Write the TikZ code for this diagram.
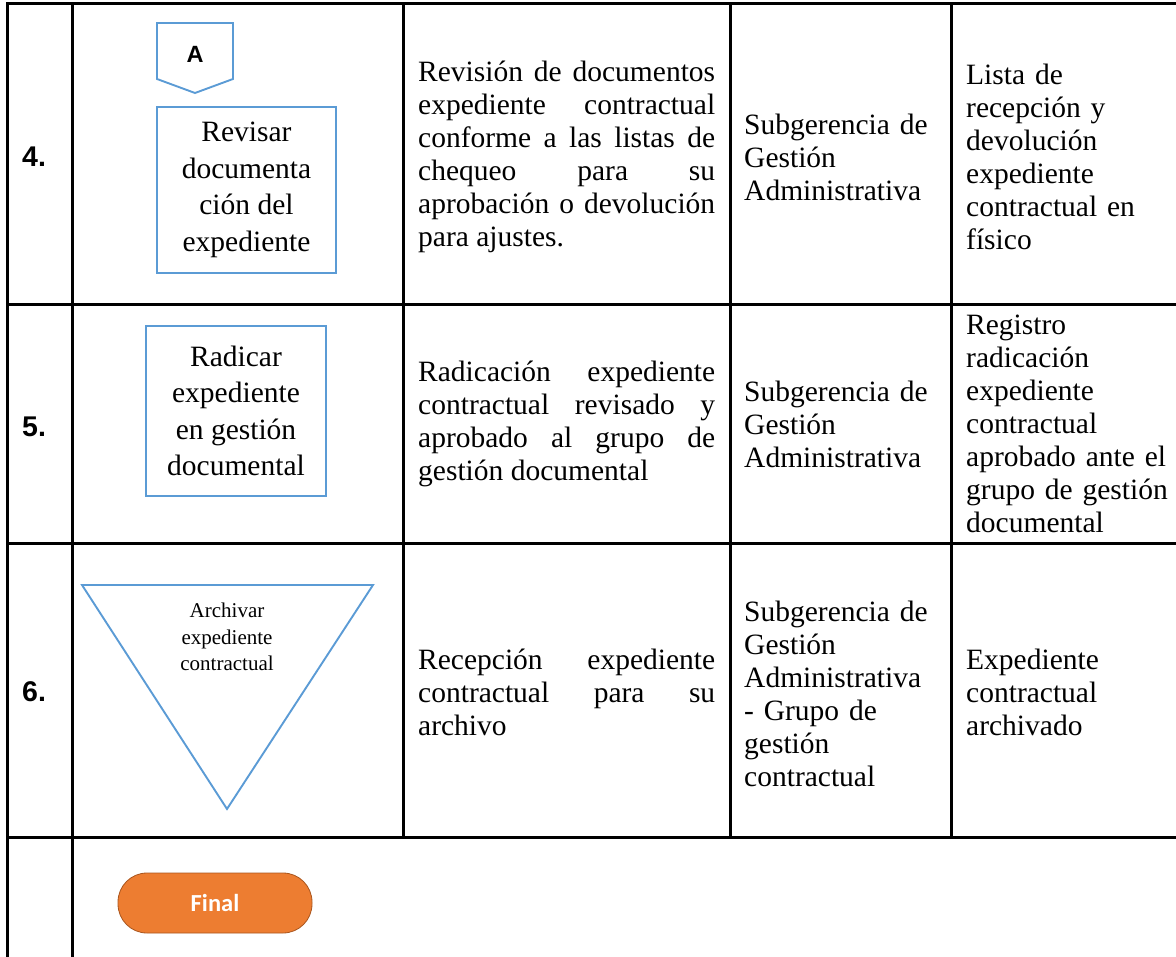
\documentclass[tikz,border=0pt]{standalone}
\usepackage{fontspec}
\setmainfont{Liberation Serif}
\newfontfamily\arialfont{Liberation Sans}
\newfontfamily\calibrifont{Carlito}
\definecolor{flowblue}{HTML}{5B9BD5}
\definecolor{finalorange}{HTML}{ED7D31}
\definecolor{finaledge}{HTML}{A9561E}
\tikzset{
	tableline/.style={line width=3pt,line cap=rect},
	flowline/.style={draw=flowblue,line width=1.9pt},
	procbox/.style={flowline,align=center,inner sep=0pt,
	  font=\fontsize{29.5}{36.5}\selectfont},
	celltext/.style={anchor=west,inner sep=0pt,
	  font=\fontsize{29.5}{33}\selectfont},
	stepnum/.style={anchor=west,inner sep=0pt,
	  font=\arialfont\bfseries\fontsize{28.5}{28.5}\selectfont},
	finalbtn/.style={fill=finalorange,draw=finaledge,line width=0.8pt,
	  rounded corners=29pt,minimum width=194pt,minimum height=60pt,
	  text=white,font=\calibrifont\bfseries\fontsize{24.5}{24.5}\selectfont}
		}

\begin{document}
\begin{tikzpicture}[x=1pt,y=-1pt]

  \useasboundingbox (0,0) rectangle (1176,957);

  % table rules
  \foreach \y in {4,305,543,837}
    \draw[tableline] (7,\y) -- (1176,\y);
  \foreach \x in {7,72}
    \draw[tableline] (\x,4) -- (\x,957);
  \foreach \x in {403,730,951}
    \draw[tableline] (\x,4) -- (\x,837);

  % step 4
  \node[stepnum] (numfour) at (22,157) {4.};
  \draw[flowline] (157,23) -- (233,23) -- (233,79) -- (195,93) -- (157,79) -- cycle;
  \node[inner sep=0pt,font=\arialfont\bfseries\fontsize{23.5}{23.5}\selectfont]
    (conA) at (195,54) {A};
  \node[procbox,minimum width=179pt,minimum height=166pt] (revisar) at (246.5,190)
    {Revisar\\documenta\\ción del\\expediente};
  \node[celltext,text width=297pt,align=justify] (descfour) at (418,157)
    {Revisión de documentos\linebreak expediente contractual\linebreak
     conforme a las listas de\linebreak chequeo para su\linebreak
     aprobación o devolución\linebreak para ajustes.};
  \node[celltext,text width=200pt,align=left] (respfour) at (744,157)
    {Subgerencia de\\Gestión\\Administrativa};
  \node[celltext,text width=205pt,align=left] (regfour) at (966,157)
    {Lista de\\recepción y\\devolución\\expediente\\contractual en\\físico};

  % step 5
  \node[stepnum] (numfive) at (22,427) {5.};
  \node[procbox,minimum width=180pt,minimum height=170pt] (radicar) at (236,411)
    {Radicar\\expediente\\en gestión\\documental};
  \node[celltext,text width=297pt,align=justify] (descfive) at (418,424)
    {Radicación expediente\linebreak contractual revisado y\linebreak
     aprobado al grupo de\linebreak gestión documental};
  \node[celltext,text width=200pt,align=left] (respfive) at (744,424)
    {Subgerencia de\\Gestión\\Administrativa};
  \node[celltext,text width=205pt,align=left] (regfive) at (966,424)
    {Registro\\radicación\\expediente\\contractual\\aprobado ante el\\grupo de gestión\\documental};

  % step 6
  \node[stepnum] (numsix) at (22,692) {6.};
  \draw[flowline] (82,585) -- (373,585) -- (227,809) -- cycle;
  \node[inner sep=0pt,align=center,font=\fontsize{21}{26.5}\selectfont]
    (archivar) at (227,637) {Archivar\\expediente\\contractual};
  \node[celltext,text width=297pt,align=justify] (descsix) at (418,692)
    {Recepción expediente\linebreak contractual para su\linebreak archivo};
  \node[celltext,text width=200pt,align=left] (respsix) at (744,694)
    {Subgerencia de\\Gestión\\Administrativa\\- Grupo de\\gestión\\contractual};
  \node[celltext,text width=205pt,align=left] (regsix) at (966,692)
    {Expediente\\contractual\\archivado};

  % end
  \node[finalbtn] (final) at (215,903) {Final};
\end{tikzpicture}
\end{document}
